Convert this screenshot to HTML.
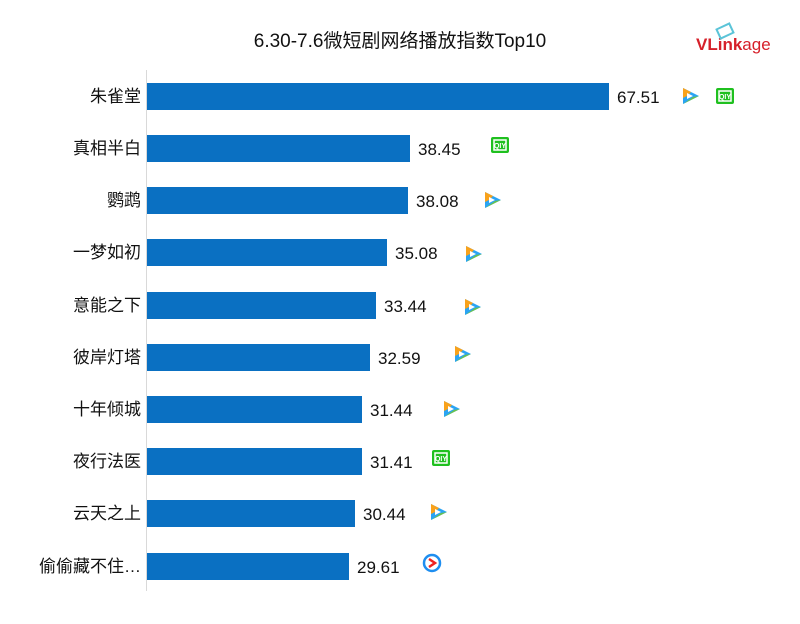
<!DOCTYPE html><html><head><meta charset="utf-8"><style>
body{margin:0;width:800px;height:619px;background:#fff;overflow:hidden;font-family:"Liberation Sans","Noto Sans CJK SC",sans-serif}
</style></head><body>
<svg width="800" height="619" xmlns="http://www.w3.org/2000/svg" font-family="Liberation Sans, Noto Sans CJK SC, sans-serif">
<defs>
<g id="tx"><path d="M-7,-8 L9,0 L-7,8 Z" fill="#2aa4f4"/><path d="M-7,-8 L1,-4 L-3,0 L-7,2Z" fill="#f9a21b"/><path d="M-7,8 L9,0 L3,1 L-4,6Z" fill="#6cc24a"/><path d="M-3,-3 L3,0 L-3,3Z" fill="#fff"/></g>
<g id="iq"><rect x="-9" y="-8" width="18" height="16" rx="2" fill="#1fc01f"/><rect x="-6" y="-5" width="12" height="10" fill="none" stroke="#fff" stroke-width="1.5"/><text x="0" y="3" font-size="7" fill="#fff" text-anchor="middle" font-weight="bold">QIY</text></g>
<g id="yk"><circle r="8" fill="none" stroke="#1e8ef0" stroke-width="2.5"/><path d="M-3,-4 L3,0 L-3,4" fill="none" stroke="#e22" stroke-width="2.5"/></g>
</defs>
<text x="400" y="47" font-size="19" text-anchor="middle" fill="#111">6.30-7.6微短剧网络播放指数Top10</text>
<text x="696" y="50" font-size="17" font-weight="bold" fill="#d6202a">VLink<tspan font-weight="normal">age</tspan></text>
<rect x="718" y="26" width="14" height="10" fill="none" stroke="#5bc4d8" stroke-width="2" transform="rotate(-25 725 31)"/>
<line x1="146.5" y1="70" x2="146.5" y2="591" stroke="#d9d9d9"/>
<g font-size="17" fill="#111">
<g text-anchor="end">
<text x="141" y="102">朱雀堂</text><text x="141" y="154">真相半白</text><text x="141" y="206">鹦鹉</text><text x="141" y="258">一梦如初</text><text x="141" y="311">意能之下</text><text x="141" y="363">彼岸灯塔</text><text x="141" y="415">十年倾城</text><text x="141" y="467">夜行法医</text><text x="141" y="519">云天之上</text><text x="141" y="572">偷偷藏不住…</text>
</g>
<g fill="#0a70c2">
<rect x="147" y="83" width="462" height="27"/><rect x="147" y="135" width="263" height="27"/><rect x="147" y="187" width="261" height="27"/><rect x="147" y="239" width="240" height="27"/><rect x="147" y="292" width="229" height="27"/><rect x="147" y="344" width="223" height="27"/><rect x="147" y="396" width="215" height="27"/><rect x="147" y="448" width="215" height="27"/><rect x="147" y="500" width="208" height="27"/><rect x="147" y="553" width="202" height="27"/>
</g>
<text x="617" y="103">67.51</text><text x="418" y="155">38.45</text><text x="416" y="207">38.08</text><text x="395" y="259">35.08</text><text x="384" y="312">33.44</text><text x="378" y="364">32.59</text><text x="370" y="416">31.44</text><text x="370" y="468">31.41</text><text x="363" y="520">30.44</text><text x="357" y="573">29.61</text>
</g>
<use href="#tx" x="690" y="96"/><use href="#iq" x="725" y="96"/>
<use href="#iq" x="500" y="145"/><use href="#tx" x="492" y="200"/><use href="#tx" x="473" y="254"/><use href="#tx" x="472" y="307"/><use href="#tx" x="462" y="354"/><use href="#tx" x="451" y="409"/><use href="#iq" x="441" y="458"/><use href="#tx" x="438" y="512"/><use href="#yk" x="432" y="563"/>
</svg>
</body></html>
